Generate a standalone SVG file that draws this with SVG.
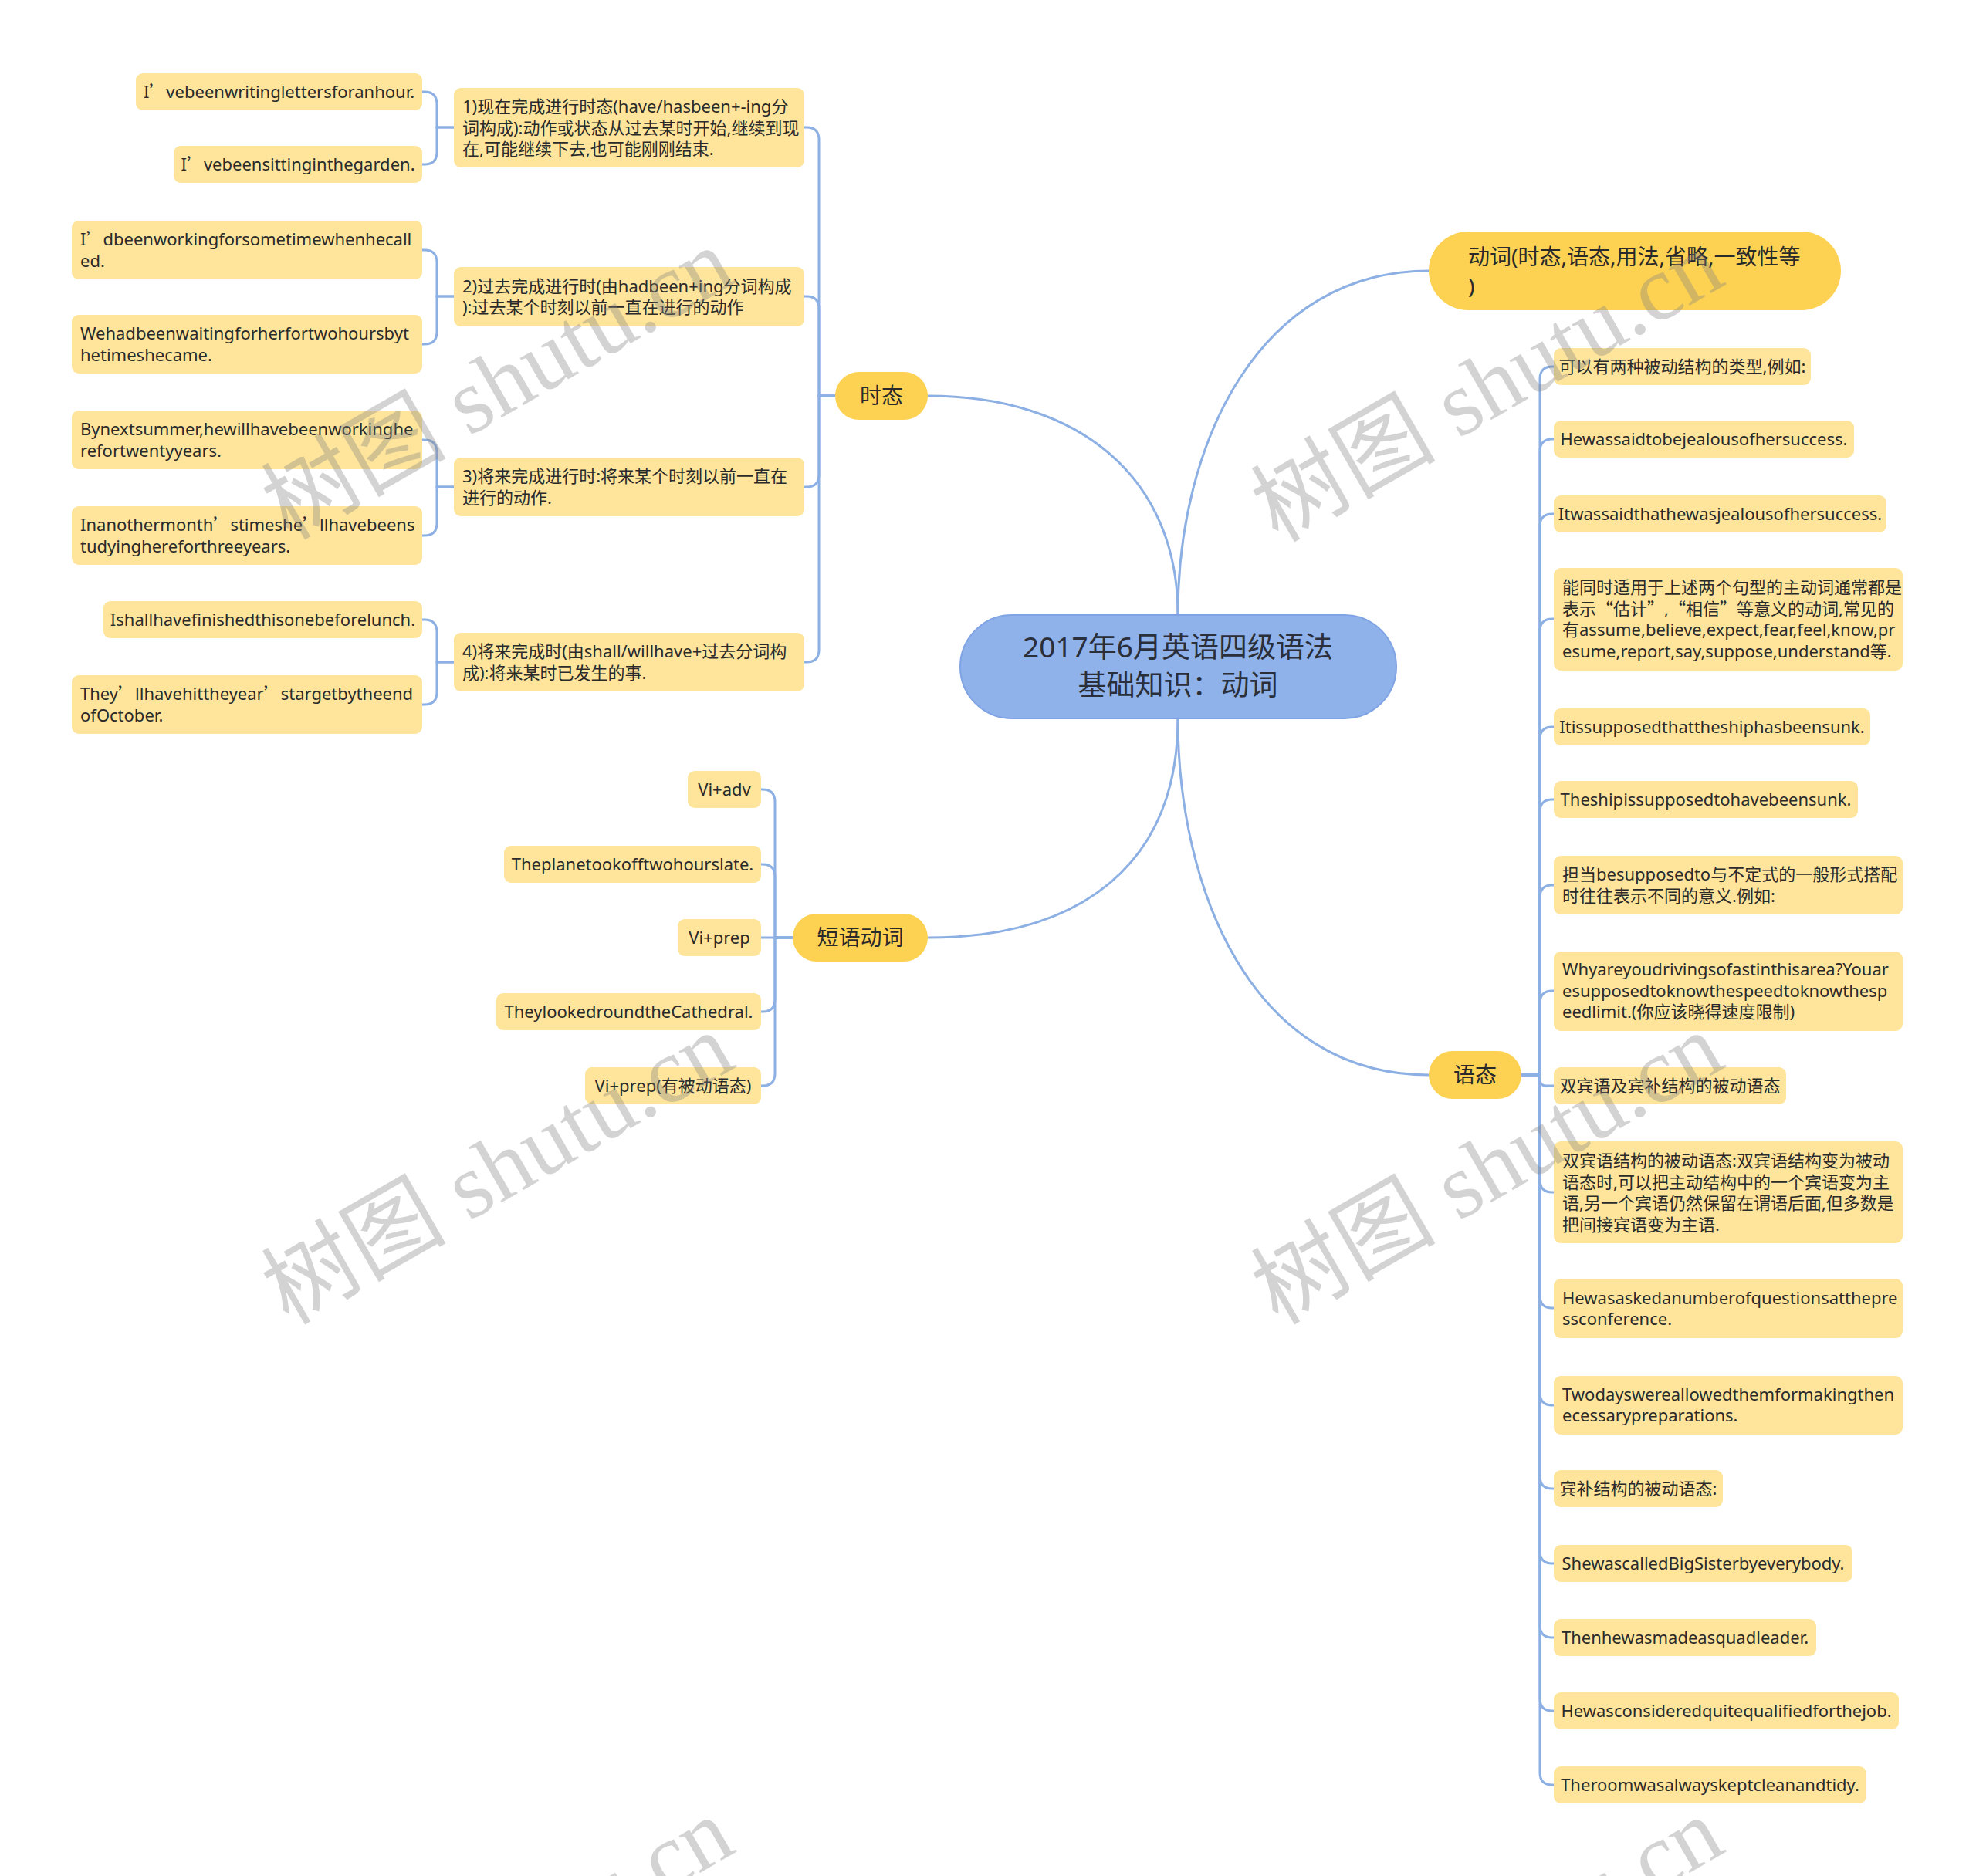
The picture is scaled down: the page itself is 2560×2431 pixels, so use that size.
<svg xmlns="http://www.w3.org/2000/svg" width="2560" height="2431" viewBox="0 0 2560 2431">
<style>
.c{fill:none;stroke:#8db0e4;stroke-width:3;stroke-linecap:round}
.leaf{fill:#fee59b}
.l1{fill:#fdd253}
.root{fill:#8fb2ea;stroke:#7fa3e3;stroke-width:2}
.t{font-family:"Noto Sans","Noto Sans CJK SC",sans-serif;font-size:22px;fill:#2a2a2a}
.m{text-anchor:middle}
.h1{font-size:28px}
.h0{font-size:37px;fill:#2a2f3a}
.cj{font-family:"Noto Sans CJK SC",sans-serif}
.wm{font-family:"Liberation Serif","Noto Sans CJK SC",serif;font-size:120px;fill:#808080;fill-opacity:0.35;text-anchor:middle}
</style>
<rect x="0" y="0" width="2560" height="2431" fill="#ffffff"/>

<g id="connectors">
<path class="c" d="M1526 797 C1526 620 1400 513 1202 513"/>
<path class="c" d="M1526 797 C1526 571 1633 351 1851 351"/>
<path class="c" d="M1526 931 C1526 1120 1400 1215 1202 1215"/>
<path class="c" d="M1526 931 C1526 1150 1620 1393 1851 1393"/>

<path class="c" d="M1082 513 H1061 V181 Q1061 165 1045 165 H1042"/>
<path class="c" d="M1082 513 H1061 V400 Q1061 384 1045 384 H1042"/>
<path class="c" d="M1082 513 H1061 V615 Q1061 631 1045 631 H1042"/>
<path class="c" d="M1082 513 H1061 V842 Q1061 858 1045 858 H1042"/>

<path class="c" d="M588 165 H566 V135 Q566 119 550 119 H547"/>
<path class="c" d="M588 165 H566 V197 Q566 213 550 213 H547"/>
<path class="c" d="M588 384 H566 V340 Q566 324 550 324 H547"/>
<path class="c" d="M588 384 H566 V430 Q566 446 550 446 H547"/>
<path class="c" d="M588 631 H566 V586 Q566 570 550 570 H547"/>
<path class="c" d="M588 631 H566 V678 Q566 694 550 694 H547"/>
<path class="c" d="M588 858 H566 V819 Q566 803 550 803 H547"/>
<path class="c" d="M588 858 H566 V897 Q566 913 550 913 H547"/>

<path class="c" d="M1027 1215 H1004 V1039 Q1004 1023 988 1023 H986"/>
<path class="c" d="M1027 1215 H1004 V1136 Q1004 1120 988 1120 H986"/>
<path class="c" d="M1027 1215 H986"/>
<path class="c" d="M1027 1215 H1004 V1295 Q1004 1311 988 1311 H986"/>
<path class="c" d="M1027 1215 H1004 V1391 Q1004 1407 988 1407 H986"/>

<path class="c" d="M1971 1393 H1995 V491 Q1995 475 2011 475 H2013"/>
<path class="c" d="M1971 1393 H1995 V585 Q1995 569 2011 569 H2013"/>
<path class="c" d="M1971 1393 H1995 V682 Q1995 666 2011 666 H2013"/>
<path class="c" d="M1971 1393 H1995 V818 Q1995 802 2011 802 H2013"/>
<path class="c" d="M1971 1393 H1995 V958 Q1995 942 2011 942 H2013"/>
<path class="c" d="M1971 1393 H1995 V1052 Q1995 1036 2011 1036 H2013"/>
<path class="c" d="M1971 1393 H1995 V1163 Q1995 1147 2011 1147 H2013"/>
<path class="c" d="M1971 1393 H1995 V1300 Q1995 1284 2011 1284 H2013"/>
<path class="c" d="M1971 1393 H1995 V1399 Q1995 1407 2003 1407 H2013"/>
<path class="c" d="M1971 1393 H1995 V1529 Q1995 1545 2011 1545 H2013"/>
<path class="c" d="M1971 1393 H1995 V1679 Q1995 1695 2011 1695 H2013"/>
<path class="c" d="M1971 1393 H1995 V1805 Q1995 1821 2011 1821 H2013"/>
<path class="c" d="M1971 1393 H1995 V1913 Q1995 1929 2011 1929 H2013"/>
<path class="c" d="M1971 1393 H1995 V2010 Q1995 2026 2011 2026 H2013"/>
<path class="c" d="M1971 1393 H1995 V2106 Q1995 2122 2011 2122 H2013"/>
<path class="c" d="M1971 1393 H1995 V2201 Q1995 2217 2011 2217 H2013"/>
<path class="c" d="M1971 1393 H1995 V2297 Q1995 2313 2011 2313 H2013"/>
</g>

<g id="root">
<rect class="root" x="1244" y="797" width="565" height="134" rx="67"/>
<text class="t h0 m" x="1526" y="852">2017年6月英语四级语法</text>
<text class="t h0 m" x="1526" y="901">基础知识：动词</text>
</g>

<g id="n-shitai">
<rect class="l1" x="1082" y="482" width="120" height="62" rx="31"/>
<text class="t h1 m" x="1142" y="523">时态</text>
</g>
<g id="n-duanyu">
<rect class="l1" x="1027" y="1184" width="175" height="62" rx="31"/>
<text class="t h1 m" x="1114.5" y="1225">短语动词</text>
</g>
<g id="n-dongci">
<rect class="l1" x="1851" y="300" width="534" height="102" rx="51"/>
<text class="t h1" x="1902" y="343">动词(时态,语态,用法,省略,一致性等</text>
<text class="t h1" x="1902" y="381">)</text>
</g>
<g id="n-yutai">
<rect class="l1" x="1851" y="1362" width="120" height="62" rx="31"/>
<text class="t h1 m" x="1911" y="1403">语态</text>
</g>

<g id="t1">
<rect class="leaf" x="588" y="114" width="454" height="103" rx="9"/>
<text class="t"><tspan x="599" y="146">1)现在完成进行时态(have/hasbeen+-ing分</tspan><tspan x="599" y="173.5">词构成):动作或状态从过去某时开始,继续到现</tspan><tspan x="599" y="201">在,可能继续下去,也可能刚刚结束.</tspan></text>
</g>
<g id="t2">
<rect class="leaf" x="588" y="346" width="454" height="77" rx="9"/>
<text class="t"><tspan x="599" y="379">2)过去完成进行时(由hadbeen+ing分词构成</tspan><tspan x="599" y="406">):过去某个时刻以前一直在进行的动作</tspan></text>
</g>
<g id="t3">
<rect class="leaf" x="588" y="593" width="454" height="76" rx="9"/>
<text class="t"><tspan x="599" y="625">3)将来完成进行时:将来某个时刻以前一直在</tspan><tspan x="599" y="653">进行的动作.</tspan></text>
</g>
<g id="t4">
<rect class="leaf" x="588" y="820" width="454" height="76" rx="9"/>
<text class="t"><tspan x="599" y="852">4)将来完成时(由shall/willhave+过去分词构</tspan><tspan x="599" y="880">成):将来某时已发生的事.</tspan></text>
</g>

<g id="l-a">
<rect class="leaf" x="176" y="95" width="371" height="48" rx="9"/>
<text class="t m" x="361.5" y="127">I<tspan class="cj">’</tspan>vebeenwritinglettersforanhour.</text>
</g>
<g id="l-b">
<rect class="leaf" x="225" y="189" width="322" height="48" rx="9"/>
<text class="t m" x="386" y="221">I<tspan class="cj">’</tspan>vebeensittinginthegarden.</text>
</g>
<g id="l-c">
<rect class="leaf" x="93" y="286" width="454" height="76" rx="9"/>
<text class="t"><tspan x="104" y="318">I<tspan class="cj">’</tspan>dbeenworkingforsometimewhenhecall</tspan><tspan x="104" y="346">ed.</tspan></text>
</g>
<g id="l-d">
<rect class="leaf" x="93" y="408" width="454" height="76" rx="9"/>
<text class="t"><tspan x="104" y="440">Wehadbeenwaitingforherfortwohoursbyt</tspan><tspan x="104" y="468">hetimeshecame.</tspan></text>
</g>
<g id="l-e">
<rect class="leaf" x="93" y="532" width="454" height="76" rx="9"/>
<text class="t"><tspan x="104" y="564">Bynextsummer,hewillhavebeenworkinghe</tspan><tspan x="104" y="592">refortwentyyears.</tspan></text>
</g>
<g id="l-f">
<rect class="leaf" x="93" y="656" width="454" height="76" rx="9"/>
<text class="t"><tspan x="104" y="688">Inanothermonth<tspan class="cj">’</tspan>stimeshe<tspan class="cj">’</tspan>llhavebeens</tspan><tspan x="104" y="716">tudyinghereforthreeyears.</tspan></text>
</g>
<g id="l-g">
<rect class="leaf" x="134" y="779" width="413" height="48" rx="9"/>
<text class="t m" x="340.5" y="811">Ishallhavefinishedthisonebeforelunch.</text>
</g>
<g id="l-h">
<rect class="leaf" x="93" y="875" width="454" height="76" rx="9"/>
<text class="t"><tspan x="104" y="907">They<tspan class="cj">’</tspan>llhavehittheyear<tspan class="cj">’</tspan>stargetbytheend</tspan><tspan x="104" y="935">ofOctober.</tspan></text>
</g>

<g id="p1">
<rect class="leaf" x="891" y="999" width="95" height="48" rx="9"/>
<text class="t m" x="938.5" y="1031">Vi+adv</text>
</g>
<g id="p2">
<rect class="leaf" x="653" y="1096" width="333" height="48" rx="9"/>
<text class="t m" x="819.5" y="1128">Theplanetookofftwohourslate.</text>
</g>
<g id="p3">
<rect class="leaf" x="878" y="1191" width="108" height="48" rx="9"/>
<text class="t m" x="932" y="1223">Vi+prep</text>
</g>
<g id="p4">
<rect class="leaf" x="643" y="1287" width="343" height="48" rx="9"/>
<text class="t m" x="814.5" y="1319">TheylookedroundtheCathedral.</text>
</g>
<g id="p5">
<rect class="leaf" x="758" y="1383" width="228" height="48" rx="9"/>
<text class="t m" x="872" y="1415">Vi+prep(有被动语态)</text>
</g>

<g id="y1">
<rect class="leaf" x="2013" y="451" width="333" height="48" rx="9"/>
<text class="t m" x="2179.5" y="483">可以有两种被动结构的类型,例如:</text>
</g>
<g id="y2">
<rect class="leaf" x="2013" y="545" width="389" height="48" rx="9"/>
<text class="t m" x="2207.5" y="577">Hewassaidtobejealousofhersuccess.</text>
</g>
<g id="y3">
<rect class="leaf" x="2013" y="642" width="431" height="48" rx="9"/>
<text class="t m" x="2228.5" y="674">Itwassaidthathewasjealousofhersuccess.</text>
</g>
<g id="y4">
<rect class="leaf" x="2013" y="736" width="452" height="133" rx="9"/>
<text class="t"><tspan x="2024" y="769">能同时适用于上述两个句型的主动词通常都是</tspan><tspan x="2024" y="797">表示<tspan class="cj">“</tspan>估计<tspan class="cj">”</tspan>,<tspan class="cj">“</tspan>相信<tspan class="cj">”</tspan>等意义的动词,常见的</tspan><tspan x="2024" y="824">有assume,believe,expect,fear,feel,know,pr</tspan><tspan x="2024" y="852">esume,report,say,suppose,understand等.</tspan></text>
</g>
<g id="y5">
<rect class="leaf" x="2013" y="918" width="410" height="48" rx="9"/>
<text class="t m" x="2218" y="950">Itissupposedthattheshiphasbeensunk.</text>
</g>
<g id="y6">
<rect class="leaf" x="2013" y="1012" width="394" height="48" rx="9"/>
<text class="t m" x="2210" y="1044">Theshipissupposedtohavebeensunk.</text>
</g>
<g id="y7">
<rect class="leaf" x="2013" y="1109" width="452" height="76" rx="9"/>
<text class="t"><tspan x="2024" y="1141">担当besupposedto与不定式的一般形式搭配</tspan><tspan x="2024" y="1169">时往往表示不同的意义.例如:</tspan></text>
</g>
<g id="y8">
<rect class="leaf" x="2013" y="1233" width="452" height="103" rx="9"/>
<text class="t"><tspan x="2024" y="1264">Whyareyoudrivingsofastinthisarea?Youar</tspan><tspan x="2024" y="1291.5">esupposedtoknowthespeedtoknowthesp</tspan><tspan x="2024" y="1319">eedlimit.(你应该晓得速度限制)</tspan></text>
</g>
<g id="y9">
<rect class="leaf" x="2013" y="1383" width="301" height="48" rx="9"/>
<text class="t m" x="2163.5" y="1415">双宾语及宾补结构的被动语态</text>
</g>
<g id="y10">
<rect class="leaf" x="2013" y="1479" width="452" height="132" rx="9"/>
<text class="t"><tspan x="2024" y="1512">双宾语结构的被动语态:双宾语结构变为被动</tspan><tspan x="2024" y="1539.5">语态时,可以把主动结构中的一个宾语变为主</tspan><tspan x="2024" y="1567">语,另一个宾语仍然保留在谓语后面,但多数是</tspan><tspan x="2024" y="1594.5">把间接宾语变为主语.</tspan></text>
</g>
<g id="y11">
<rect class="leaf" x="2013" y="1657" width="452" height="77" rx="9"/>
<text class="t"><tspan x="2024" y="1690">Hewasaskedanumberofquestionsatthepre</tspan><tspan x="2024" y="1717">ssconference.</tspan></text>
</g>
<g id="y12">
<rect class="leaf" x="2013" y="1783" width="452" height="76" rx="9"/>
<text class="t"><tspan x="2024" y="1815">Twodayswereallowedthemformakingthen</tspan><tspan x="2024" y="1842">ecessarypreparations.</tspan></text>
</g>
<g id="y13">
<rect class="leaf" x="2013" y="1905" width="219" height="48" rx="9"/>
<text class="t m" x="2122.5" y="1937">宾补结构的被动语态:</text>
</g>
<g id="y14">
<rect class="leaf" x="2013" y="2002" width="387" height="48" rx="9"/>
<text class="t m" x="2206.5" y="2034">ShewascalledBigSisterbyeverybody.</text>
</g>
<g id="y15">
<rect class="leaf" x="2013" y="2098" width="340" height="48" rx="9"/>
<text class="t m" x="2183" y="2130">Thenhewasmadeasquadleader.</text>
</g>
<g id="y16">
<rect class="leaf" x="2013" y="2193" width="447" height="48" rx="9"/>
<text class="t m" x="2236.5" y="2225">Hewasconsideredquitequalifiedforthejob.</text>
</g>
<g id="y17">
<rect class="leaf" x="2013" y="2289" width="405" height="48" rx="9"/>
<text class="t m" x="2215.5" y="2321">Theroomwasalwayskeptcleanandtidy.</text>
</g>

<g id="watermark">
<text class="wm" transform="translate(645,498) rotate(-30)" x="0" y="40">树图 shutu.cn</text>
<text class="wm" transform="translate(1927,501) rotate(-30)" x="0" y="40">树图 shutu.cn</text>
<text class="wm" transform="translate(645,1515) rotate(-30)" x="0" y="40">树图 shutu.cn</text>
<text class="wm" transform="translate(1927,1515) rotate(-30)" x="0" y="40">树图 shutu.cn</text>
<text class="wm" transform="translate(645,2532) rotate(-30)" x="0" y="40">树图 shutu.cn</text>
<text class="wm" transform="translate(1927,2532) rotate(-30)" x="0" y="40">树图 shutu.cn</text>
</g>
</svg>
